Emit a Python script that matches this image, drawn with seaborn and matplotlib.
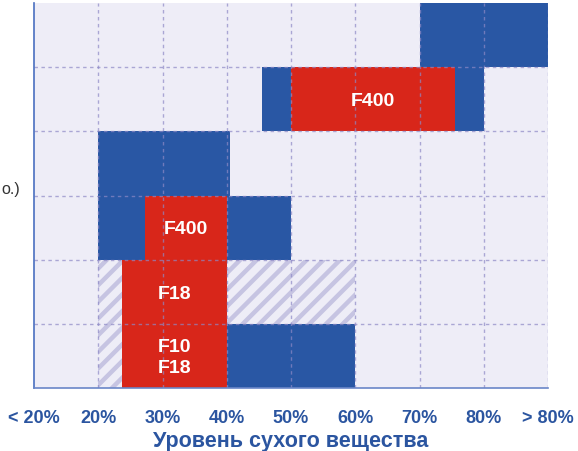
import matplotlib
matplotlib.use("Agg")
import matplotlib.pyplot as plt
import seaborn as sns

# x positions in percent: 10 stands for "< 20%", 90 for "> 80%"
tick_pos = [10, 20, 30, 40, 50, 60, 70, 80, 90]
tick_labels = ["< 20%", "20%", "30%", "40%", "50%", "60%", "70%", "80%", "> 80%"]

# blue ranges (row, start, end)
blue_rows = [0, 1, 2, 3, 5]
blue_start = [70, 45.5, 20, 20, 40]
blue_end = [90, 80, 40.5, 50, 60]

# hatched ranges
hatch_rows = [4, 5]
hatch_start = [20, 20]
hatch_end = [60, 23.7]

# red ranges with their names
red_rows = [1, 3, 4, 5]
red_start = [50, 27.3, 23.7, 23.7]
red_end = [75.6, 40, 40, 40]
red_names = ["F400", "F400", "F18", "F10\nF18"]

n_rows = 6

blue = "#2957a4"
red = "#d8261a"
bg = "#eeedf7"
stripe = "#c6c4e2"
grid_col = "#8e89c6"
text_blue = "#2b55a0"

sns.set_style("white")
plt.rcParams['font.family'] = ['Liberation Sans', 'DejaVu Sans']
plt.rcParams['hatch.linewidth'] = 3.2

fig = plt.figure(figsize=(5.78, 4.52), dpi=100)
ax = fig.add_axes([34 / 578, 1 - 389 / 452, 514 / 578, 385 / 452])
ax.set_facecolor(bg)

ax.barh(blue_rows, [e - s for s, e in zip(blue_start, blue_end)], left=blue_start,
        height=1.0, color=blue, linewidth=0)
ax.barh(hatch_rows, [e - s for s, e in zip(hatch_start, hatch_end)], left=hatch_start,
        height=1.0, color=bg, edgecolor=stripe, hatch='//', linewidth=0)
ax.barh(red_rows, [e - s for s, e in zip(red_start, red_end)], left=red_start,
        height=1.0, color=red, linewidth=0)

for r, s, e, name in zip(red_rows, red_start, red_end, red_names):
    ax.text((s + e) / 2, r + 0.02, name, ha='center', va='center', color='white',
            fontsize=14, fontweight='bold', linespacing=1.3)

ax.set_xlim(10, 90)
ax.set_ylim(n_rows - 0.5, -0.5)
ax.set_xticks(tick_pos)
ax.set_xticklabels(tick_labels)
ax.set_yticks([i + 0.5 for i in range(n_rows - 1)])
ax.set_yticklabels([])

# grid drawn on top of bars
ax.set_axisbelow(False)
for x in tick_pos[1:]:
    ax.axvline(x, color=grid_col, lw=1.0, ls=(0, (2.5, 2.5)), alpha=0.7)
for y in range(n_rows - 1):
    ax.axhline(y + 0.5, color=grid_col, lw=1.0, ls=(0, (2.5, 2.5)), alpha=0.7)

ax.tick_params(axis='x', length=7, width=1.8, color=blue, direction='out',
               labelsize=13, labelcolor=text_blue, pad=8)
ax.tick_params(axis='y', length=3, width=1.5, color=blue, direction='in')
for lab in ax.get_xticklabels():
    lab.set_fontweight('bold')

sns.despine(ax=ax, top=True, right=True)
ax.spines['left'].set_color("#4a6fc0")
ax.spines['left'].set_linewidth(1.2)
ax.spines['bottom'].set_color("#6a86c8")
ax.spines['bottom'].set_linewidth(1.2)

ax.set_xlabel("Уровень сухого вещества", fontsize=15.5, fontweight='bold',
              color=text_blue, labelpad=3)

fig.text(1 / 578, 1 - 190 / 452, "о.)", ha='left', va='center',
         fontsize=11.5, color='#333333')

fig.savefig("out.png", dpi=100)
